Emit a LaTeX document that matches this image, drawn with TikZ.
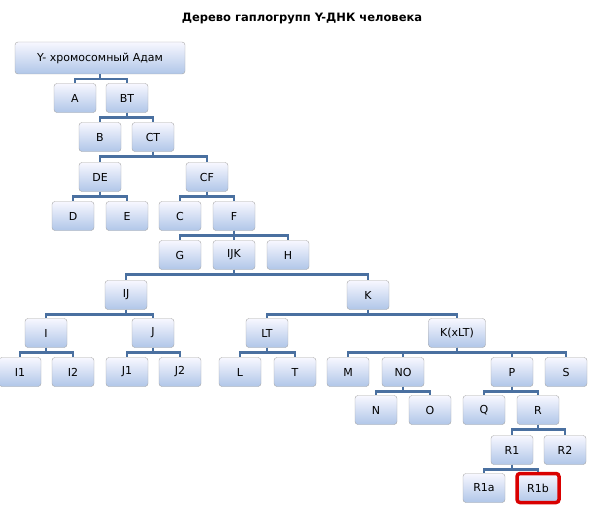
\documentclass[tikz,border=0pt]{standalone}
\usepackage{fontspec}
\setmainfont{DejaVu Sans}
\begin{document}
\begin{tikzpicture}[x=1pt,y=-1pt,
  hb/.style={draw=black!35,rounded corners=3pt,top color=blue!3!white,bottom color={rgb,255:red,176;green,198;blue,232},
    minimum width=42pt,minimum height=29pt,inner sep=2pt,font=\fontsize{11}{12}\selectfont},
  ln/.style={draw={rgb,255:red,74;green,112;blue,160},line width=2.6pt}]
\useasboundingbox (0,0) rectangle (604,516);
\node (title) at (302,19) {\fontsize{11.5}{13}\selectfont\bfseries Дерево гаплогрупп Y-ДНК человека};
\node[hb,minimum width=170pt,minimum height=32pt] (Y) at (100,58) {Y- хромосомный Адам};
\foreach \n/\t/\x/\y in {A/A/75/98, BT/BT/127/98, B/B/100/137, CT/CT/153/137,
 DE/DE/100/177, CF/CF/207/177, D/D/73/216, E/E/127/216, C/C/180/216, F/F/234/216,
 G/G/180/255, IJK/IJK/234/255, H/H/288/255, IJ/IJ/126/295, K/K/368/295,
 I/I/46/333, J/J/153/333, LT/LT/267/333,
 I1/I1/20/372, I2/I2/73/372, J1/J1/127/372, J2/J2/180/372, L/L/240/372, T/T/295/372,
 M/M/348/372, NO/NO/403/372, P/P/512/372, S/S/566/372,
 N/N/376/410, O/O/430/410, Q/Q/484/410, R/R/538/410,
 R1/R1/512/450, R2/R2/565/450, R1a/R1a/484/488}
 \node[hb] (\n) at (\x,\y) {\t};
\node[hb,minimum width=57pt] (KxLT) at (457,333) {K(xLT)};
\node[hb,draw=red!85!black,line width=3.5pt] (R1b) at (538,488) {R1b};
\foreach \p/\cs in {Y/{A,BT}, BT/{B,CT}, CT/{DE,CF}, DE/{D,E}, CF/{C,F}, F/{G,IJK,H},
  IJK/{IJ,K}, IJ/{I,J}, K/{LT,KxLT}, I/{I1,I2}, J/{J1,J2}, LT/{L,T}, KxLT/{M,NO,P,S},
  NO/{N,O}, P/{Q,R}, R/{R1,R2}, R1/{R1a,R1b}}
  \foreach \c in \cs {
    \begin{pgfonlayer}{main}\end{pgfonlayer}
    \draw[ln] (\p.south) -- ++(0,5) -| (\c.north);
  }
\end{tikzpicture}
\end{document}
